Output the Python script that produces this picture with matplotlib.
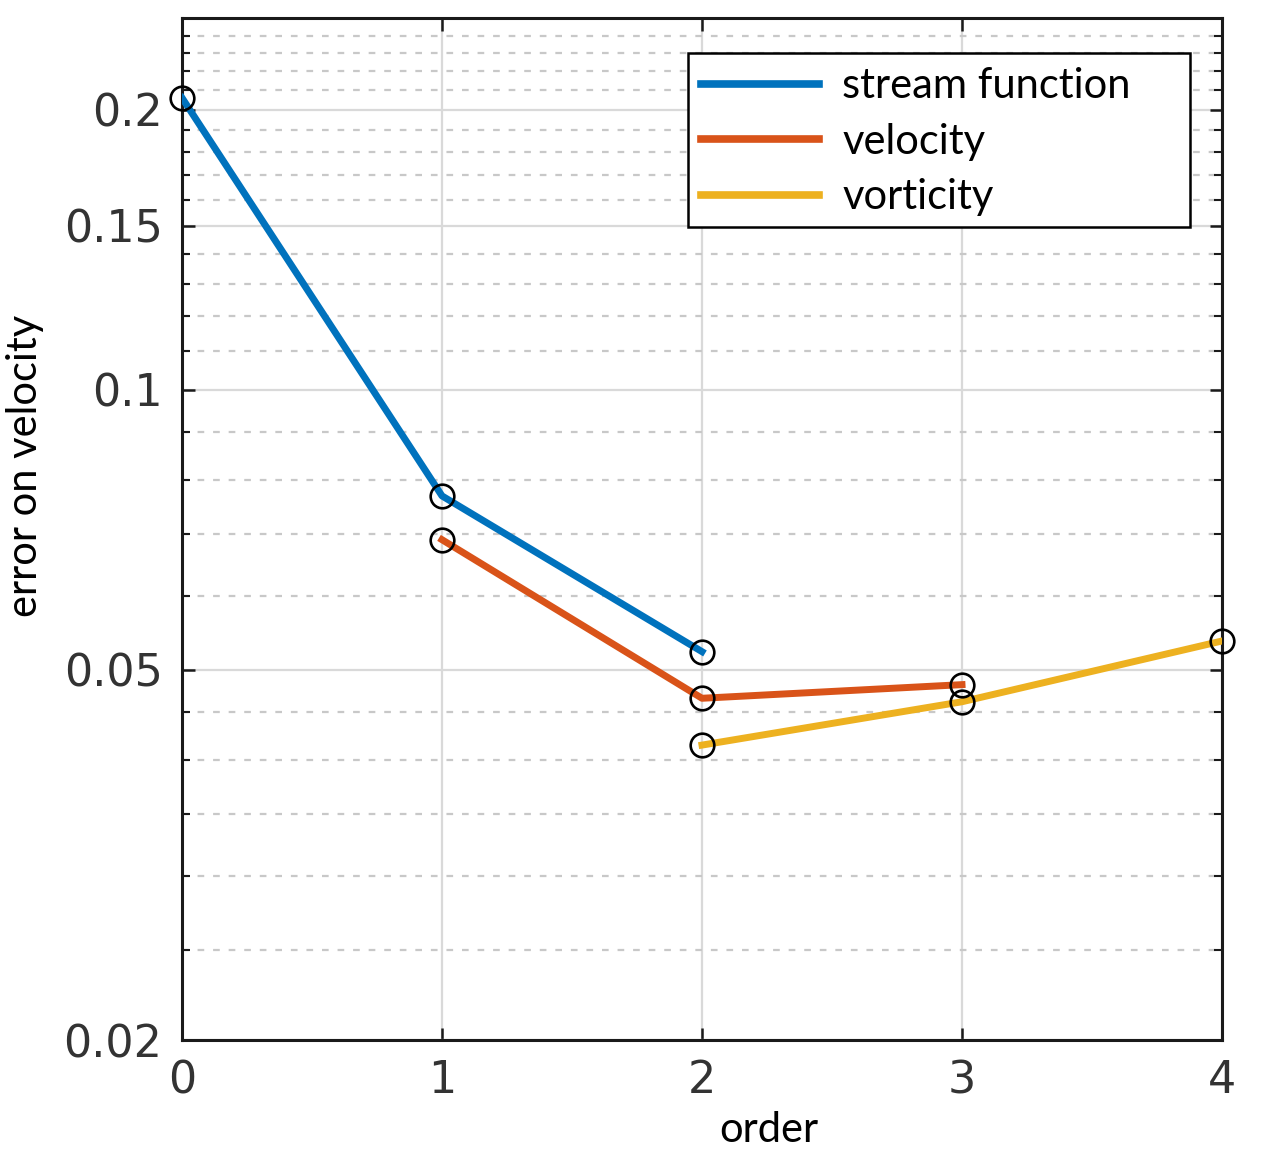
import numpy as np
import matplotlib.pyplot as plt
from matplotlib.patches import Rectangle
from matplotlib.ticker import FixedLocator, NullFormatter

# data
order_sf = [0, 1, 2]
err_sf = [0.206, 0.0769, 0.0523]
order_vel = [1, 2, 3]
err_vel = [0.069, 0.0466, 0.0482]
order_vort = [2, 3, 4]
err_vort = [0.0415, 0.0462, 0.0537]

yticks = [0.02, 0.05, 0.1, 0.15, 0.2]
ytick_labels = ["0.02", "0.05", "0.1", "0.15", "0.2"]
yminor = [0.025, 0.03, 0.035, 0.04, 0.045, 0.06, 0.07, 0.08, 0.09,
          0.11, 0.12, 0.13, 0.14, 0.16, 0.17, 0.18, 0.19,
          0.21, 0.22, 0.23, 0.24]

blue = "#0072BD"
orange = "#D95319"
yellow = "#EDB120"

fig = plt.figure(figsize=(12.62, 11.52), dpi=100)
ax = fig.add_axes([182/1262, 112/1152, 1040/1262, 1022/1152])

lw = 5
ax.plot(order_sf, err_sf, color=blue, lw=lw, label="stream function", zorder=3)
ax.plot(order_vel, err_vel, color=orange, lw=lw, label="velocity", zorder=3)
ax.plot(order_vort, err_vort, color=yellow, lw=lw, label="vorticity", zorder=3)
for xs, ys in [(order_sf, err_sf), (order_vel, err_vel), (order_vort, err_vort)]:
    ax.plot(xs, ys, "o", mfc="none", mec="black", ms=17, mew=1.9, zorder=4, clip_on=False)

ax.set_yscale("log")
ax.set_xlim(0, 4)
ax.set_ylim(0.02, 0.251)
ax.set_xticks([0, 1, 2, 3, 4])
ax.yaxis.set_major_locator(FixedLocator(yticks))
ax.yaxis.set_minor_locator(FixedLocator(yminor))
ax.set_yticklabels(ytick_labels)
ax.yaxis.set_minor_formatter(NullFormatter())

ax.grid(True, which="major", color="#d9d9d9", lw=1.6, ls="-")
ax.grid(True, which="minor", axis="y", color="#c8c8c8", lw=1.6, ls=(0, (3, 4)))
ax.set_axisbelow(True)

for s in ax.spines.values():
    s.set_linewidth(2.2)
    s.set_color("#1a1a1a")
ax.tick_params(which="both", direction="in", top=True, right=True,
               labelsize=32, labelcolor="#333333", color="#1a1a1a")
ax.tick_params(which="major", length=9, width=1.8, pad=14)
ax.tick_params(which="minor", length=6, width=1.5)

# legend box drawn by hand (wider than the entries, like the original)
box = Rectangle((688/1262, 1 - 227/1152), 502/1262, 174/1152, transform=fig.transFigure,
                facecolor="white", edgecolor="black", lw=1.8, zorder=4.5, clip_on=False)
ax.add_patch(box)
leg = ax.legend(loc="upper left", bbox_to_anchor=(688/1262, 1 - 55/1152),
                bbox_transform=fig.transFigure, prop={"family": "Lato", "size": 30},
                frameon=False, handlelength=2.85, handletextpad=0.55,
                borderpad=0.3, labelspacing=0.42, borderaxespad=0)
leg.set_zorder(5)
for h in leg.get_lines():
    h.set_linewidth(5.5)

fig.text(769/1262, 1 - 1130/1152, "order", ha="center", va="center",
         family="Lato", fontsize=30)
fig.text(25/1262, 1 - 466/1152, "error on velocity", ha="center", va="center",
         rotation=90, family="Lato", fontsize=30)

fig.savefig("out.png", dpi=100)
